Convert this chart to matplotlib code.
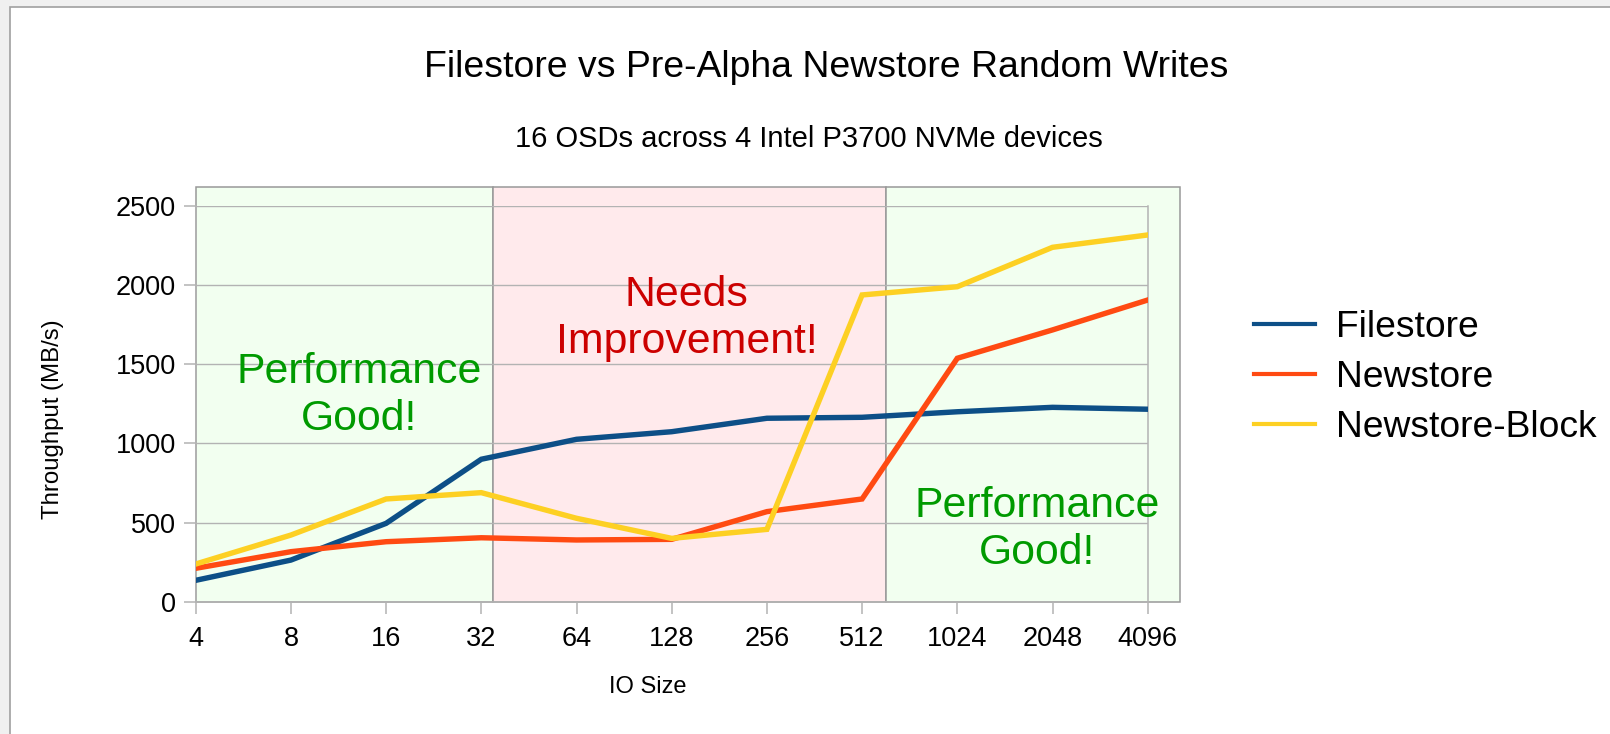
import matplotlib
matplotlib.use("Agg")
import matplotlib.pyplot as plt
from matplotlib.patches import Rectangle

plt.rcParams['font.family'] = ['Liberation Sans', 'DejaVu Sans']

# Data
io_sizes = ['4', '8', '16', '32', '64', '128', '256', '512', '1024', '2048', '4096']
filestore = [135, 263, 495, 900, 1026, 1074, 1159, 1165, 1200, 1228, 1216]
newstore = [211, 316, 379, 404, 390, 394, 569, 649, 1538, 1717, 1906]
newstore_block = [238, 421, 649, 689, 527, 400, 457, 1938, 1990, 2239, 2317]

series_names = ['Filestore', 'Newstore', 'Newstore-Block']
series_colors = ['#0d4f87', '#ff4a12', '#fdd023']

W, H = 1610, 734
fig = plt.figure(figsize=(W / 100, H / 100), dpi=100)
fig.patch.set_facecolor('#f0f0f0')

# white chart frame
fig.patches.append(Rectangle((9.5 / W, -0.1), 1.2, 1 - 7 / H + 0.1, transform=fig.transFigure,
                             facecolor='white', edgecolor='#a0a0a0', linewidth=1.2, zorder=-10))

ax = fig.add_axes([195.7 / W, 1 - 601.7 / H, (1147.7 - 195.7) / W, (601.7 - 206) / H])
ax.set_facecolor('none')
x = list(range(len(io_sizes)))

# shaded regions
regions = [(0, 3.126, '#f2fff0'), (3.126, 7.25, '#ffeaec'), (7.25, 10.34, '#f2fff0')]
for x0, x1, col in regions:
    ax.add_patch(Rectangle((x0, 0), x1 - x0, 2622, facecolor=col, edgecolor='#999999',
                           linewidth=1.1, clip_on=False, zorder=0.1))

for vals, name, col in zip([filestore, newstore, newstore_block], series_names, series_colors):
    ax.plot(x, vals, color=col, linewidth=3.9, label=name, solid_joinstyle='miter', zorder=3)

ax.set_xlim(0, 10)
ax.set_ylim(0, 2500)
ax.set_xticks(x)
ax.set_xticklabels(io_sizes)
ax.set_yticks([0, 500, 1000, 1500, 2000, 2500])
ax.grid(axis='y', color='#b3b3b3', linewidth=1.0)
ax.set_axisbelow(True)
for s in ax.spines.values():
    s.set_color('#b3b3b3')
    s.set_linewidth(1.1)
ax.spines['top'].set_visible(False)
ax.tick_params(axis='both', colors='#b3b3b3', labelcolor='black', labelsize=19.5, length=8.3, width=1.1)
ax.tick_params(axis='x', pad=9)
ax.tick_params(axis='y', pad=6)

# annotations
ax.text(1.715, 1384, 'Performance', color='#009a00', fontsize=30.8, ha='center', va='baseline')
ax.text(1.715, 1085, 'Good!', color='#009a00', fontsize=30.8, ha='center', va='baseline')
ax.text(5.156, 1868, 'Needs', color='#cc0000', fontsize=30.8, ha='center', va='baseline')
ax.text(5.156, 1569, 'Improvement!', color='#cc0000', fontsize=30.8, ha='center', va='baseline')
ax.text(8.843, 537, 'Performance', color='#009a00', fontsize=30.8, ha='center', va='baseline')
ax.text(8.843, 238, 'Good!', color='#009a00', fontsize=30.8, ha='center', va='baseline')

# titles and axis labels
fig.text(826 / W, 1 - 76.7 / H, 'Filestore vs Pre-Alpha Newstore Random Writes',
         fontsize=26.9, ha='center', va='baseline')
fig.text(809 / W, 1 - 146.7 / H, '16 OSDs across 4 Intel P3700 NVMe devices',
         fontsize=21, ha='center', va='baseline')
fig.text(648 / W, 1 - 693 / H, 'IO Size', fontsize=17, ha='center', va='baseline')
fig.text(58.5 / W, 1 - 419 / H, 'Throughput (MB/s)', fontsize=17.3, rotation=90,
         rotation_mode='anchor', ha='center', va='baseline')

leg = fig.legend(loc='center left', bbox_to_anchor=(1254 / W, 1 - 377.5 / H), frameon=False,
                 fontsize=26.8, handlelength=1.65, handletextpad=0.54, labelspacing=0.4,
                 borderpad=0, borderaxespad=0)
for h in leg.legend_handles:
    h.set_linewidth(3.0)

fig.savefig('out.png', dpi=100)
